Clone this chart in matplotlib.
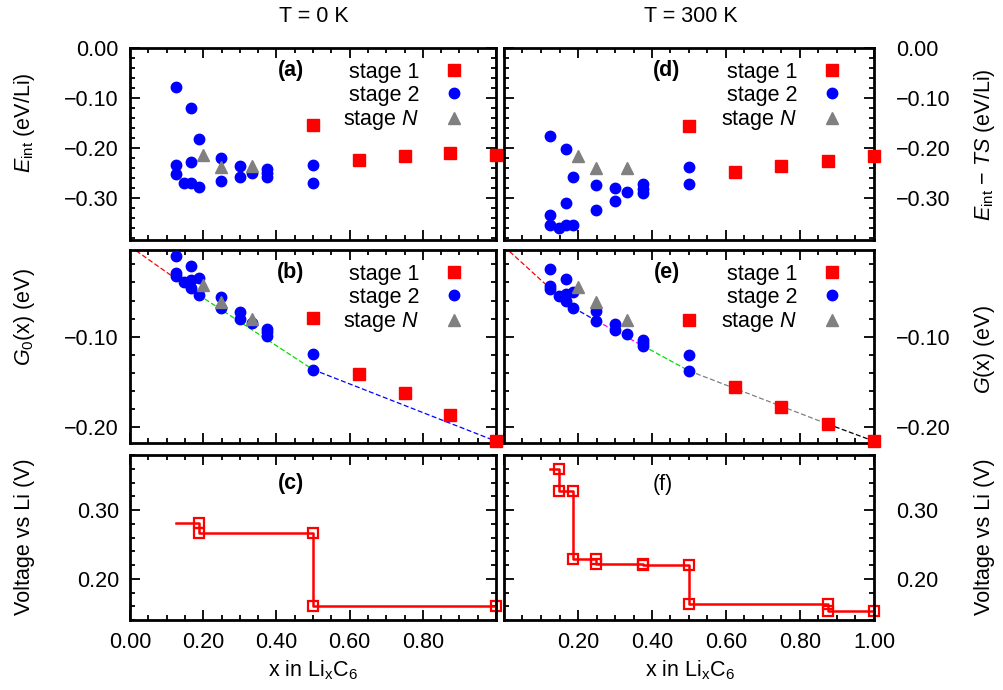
import matplotlib
matplotlib.use("Agg")
import matplotlib.pyplot as plt
from matplotlib.ticker import MultipleLocator, FuncFormatter

plt.rcParams['font.family'] = ['Liberation Sans', 'DejaVu Sans']
plt.rcParams['mathtext.fontset'] = 'custom'
plt.rcParams['mathtext.rm'] = 'Liberation Sans'
plt.rcParams['mathtext.it'] = 'Liberation Sans:italic'
plt.rcParams['mathtext.bf'] = 'Liberation Sans:bold'
plt.rcParams['font.size'] = 15.5

# ---- data ----
x_s1 = [0.5, 0.625, 0.75, 0.875, 1.0]
x_s2 = [0.125, 0.125, 0.125, 0.148, 0.167, 0.167, 0.167, 0.1875, 0.1875,
        0.25, 0.25, 0.30, 0.30, 0.333, 0.375, 0.375, 0.375, 0.5, 0.5]
x_sN = [0.2, 0.25, 0.333]

# E_int, T = 0 K
E0_s1 = [-0.155, -0.224, -0.216, -0.211, -0.214]
E0_s2 = [-0.079, -0.234, -0.252, -0.271, -0.121, -0.228, -0.271, -0.183, -0.279,
         -0.221, -0.267, -0.236, -0.259, -0.251, -0.243, -0.251, -0.259, -0.235, -0.271]
E0_sN = [-0.214, -0.239, -0.237]

# E_int - TS, T = 300 K
E300_s1 = [-0.157, -0.248, -0.236, -0.226, -0.216]
E300_s2 = [-0.177, -0.334, -0.354, -0.361, -0.203, -0.310, -0.354, -0.258, -0.354,
           -0.275, -0.324, -0.281, -0.306, -0.289, -0.273, -0.282, -0.290, -0.238, -0.273]
E300_sN = [-0.216, -0.241, -0.240]

# G0(x)
G0_s1 = [-0.0799, -0.142, -0.163, -0.1868, -0.216]
G0_s2 = [-0.011, -0.0293, -0.033, -0.040, -0.022, -0.0377, -0.0458, -0.0348, -0.0538,
         -0.056, -0.0678, -0.0722, -0.0805, -0.0854, -0.0915, -0.0953, -0.099, -0.119, -0.1366]
G0_sN = [-0.0429, -0.0612, -0.0805]

# G(x), T = 300 K
G300_s1 = [-0.0811, -0.1556, -0.178, -0.197, -0.216]
G300_s2 = [-0.0248, -0.0436, -0.0473, -0.0553, -0.0364, -0.0528, -0.0611, -0.0502, -0.068,
           -0.0716, -0.0826, -0.0855, -0.0927, -0.0975, -0.1036, -0.1073, -0.1101, -0.120, -0.138]
G300_sN = [-0.0447, -0.0618, -0.0818]

# convex hull segments
hull0_x = [0.0, 0.1875, 0.5, 1.0]
hull0_G = [0.0, -0.0538, -0.1366, -0.216]
hull0_c = ['red', '#00dd00', 'blue']
hull300_x = [0.0, 0.148, 0.1875, 0.25, 0.375, 0.5, 0.875, 1.0]
hull300_G = [0.0, -0.0553, -0.068, -0.0826, -0.1101, -0.138, -0.197, -0.216]
hull300_c = ['red', '#00dd00', 'blue', 'magenta', '#00dd00', 'gray', 'black']

# voltage profiles
v0_x = [0.125, 0.1875, 0.1875, 0.5, 0.5, 1.0]
v0 = [0.281, 0.281, 0.267, 0.267, 0.161, 0.161]
v300_x = [0.125, 0.148, 0.148, 0.1875, 0.1875, 0.25, 0.25, 0.375, 0.375,
          0.5, 0.5, 0.875, 0.875, 1.0]
v300 = [0.359, 0.359, 0.327, 0.327, 0.229, 0.229, 0.222, 0.222, 0.220,
        0.220, 0.163, 0.163, 0.153, 0.153]


def fmt(skip=None):
    def f(v, pos):
        if skip is not None and abs(v - skip) < 1e-6:
            return ''
        if abs(v) < 1e-9:
            v = 0.0
        return f"{v:.2f}".replace('-', '\u2212')
    return FuncFormatter(f)


def setup(ax, ylim, side, xlabels=False, xskip=None):
    ax.set_xlim(0, 1)
    ax.set_ylim(*ylim)
    ax.xaxis.set_major_locator(MultipleLocator(0.2))
    ax.xaxis.set_minor_locator(MultipleLocator(0.05))
    ax.yaxis.set_major_locator(MultipleLocator(0.1))
    ax.yaxis.set_minor_locator(MultipleLocator(0.02))
    ax.tick_params(which='both', direction='in', top=True, right=True,
                   left=True, bottom=True, width=1.3, color='black')
    ax.tick_params(which='major', length=7)
    ax.tick_params(which='minor', length=3.5)
    ax.tick_params(axis='y', labelleft=(side == 'left'), labelright=(side == 'right'),
                   pad=(8 if side == 'left' else 16))
    ax.tick_params(axis='x', labelbottom=xlabels, pad=9)
    ax.yaxis.set_major_formatter(fmt())
    ax.xaxis.set_major_formatter(fmt(xskip))
    for s in ax.spines.values():
        s.set_linewidth(2)


def scatter_panel(ax, xs1, y1, xs2, y2, xsN, yN, tag):
    ax.plot(xs1, y1, 's', color='red', ms=8, clip_on=False, label='stage 1', zorder=4)
    ax.plot(xs2, y2, 'o', color='blue', ms=7.5, clip_on=False, label='stage 2', zorder=4)
    ax.plot(xsN, yN, '^', color='gray', ms=9, clip_on=False, label='stage $N$', zorder=4)
    ax.legend(loc='upper right', bbox_to_anchor=(0.95, 0.995), frameon=False,
              markerfirst=False, handlelength=1.0, handletextpad=1.1,
              labelspacing=0.1, borderaxespad=0.2, numpoints=1)
    ax.text(0.44, 0.885, tag, transform=ax.transAxes, ha='center', va='center',
            fontweight='bold')


fig = plt.figure(figsize=(10.04, 6.90), dpi=100)
W, H = 1004.0, 690.0


def box(x0, x1, y0, y1):
    return [x0 / W, 1 - y1 / H, (x1 - x0) / W, (y1 - y0) / H]


ax_a = fig.add_axes(box(130, 496, 48, 240))
ax_b = fig.add_axes(box(130, 496, 250, 443))
ax_c = fig.add_axes(box(130, 496, 455, 620))
ax_d = fig.add_axes(box(504, 874, 48, 240))
ax_e = fig.add_axes(box(504, 874, 250, 443))
ax_f = fig.add_axes(box(504, 874, 455, 620))

# energies
setup(ax_a, (-0.385, 0.0), 'left')
scatter_panel(ax_a, x_s1, E0_s1, x_s2, E0_s2, x_sN, E0_sN, '(a)')
setup(ax_d, (-0.385, 0.0), 'right')
scatter_panel(ax_d, x_s1, E300_s1, x_s2, E300_s2, x_sN, E300_sN, '(d)')

# Gibbs energies with hull
setup(ax_b, (-0.218, -0.004), 'left')
for i in range(len(hull0_c)):
    ax_b.plot(hull0_x[i:i + 2], hull0_G[i:i + 2], '--', color=hull0_c[i], lw=0.9,
              dashes=(4, 2), zorder=2)
scatter_panel(ax_b, x_s1, G0_s1, x_s2, G0_s2, x_sN, G0_sN, '(b)')
setup(ax_e, (-0.218, -0.004), 'right')
for i in range(len(hull300_c)):
    ax_e.plot(hull300_x[i:i + 2], hull300_G[i:i + 2], '--', color=hull300_c[i], lw=0.9,
              dashes=(4, 2), zorder=2)
scatter_panel(ax_e, x_s1, G300_s1, x_s2, G300_s2, x_sN, G300_sN, '(e)')

# voltage
setup(ax_c, (0.14, 0.38), 'left', xlabels=True, xskip=1.0)
ax_c.plot(v0_x, v0, '-', color='red', lw=1.8, marker='s', ms=7, mfc='none', mew=1.6,
          markevery=list(range(1, len(v0_x))), clip_on=False)
ax_c.text(0.44, 0.83, '(c)', transform=ax_c.transAxes, ha='center', va='center',
          fontweight='bold')
setup(ax_f, (0.14, 0.38), 'right', xlabels=True, xskip=0.0)
ax_f.plot(v300_x, v300, '-', color='red', lw=1.8, marker='s', ms=7, mfc='none', mew=1.6,
          markevery=list(range(1, len(v300_x))), clip_on=False)
ax_f.text(0.43, 0.82, '(f)', transform=ax_f.transAxes, ha='center', va='center')

# column titles and axis labels
fig.text(314 / W, 1 - 17 / H, 'T = 0 K', ha='center', va='center')
fig.text(691 / W, 1 - 17 / H, 'T = 300 K', ha='center', va='center')
fig.text(313 / W, 1 - 670 / H, r'x in Li$_\mathrm{x}$C$_6$', ha='center', va='center')
fig.text(690 / W, 1 - 670 / H, r'x in Li$_\mathrm{x}$C$_6$', ha='center', va='center')

fig.text(25 / W, 1 - 123 / H, r'$E_\mathrm{int}$ (eV/Li)', rotation=90, ha='center', va='center')
fig.text(25 / W, 1 - 317 / H, r'$G_0$(x) (eV)', rotation=90, ha='center', va='center')
fig.text(25 / W, 1 - 537 / H, 'Voltage vs Li (V)', rotation=90, ha='center', va='center')
fig.text(985 / W, 1 - 145 / H, r'$E_\mathrm{int}$ $-$ $TS$ (eV/Li)', rotation=90,
         ha='center', va='center')
fig.text(985 / W, 1 - 350 / H, r'$G$(x) (eV)', rotation=90, ha='center', va='center')
fig.text(985 / W, 1 - 537 / H, 'Voltage vs Li (V)', rotation=90, ha='center', va='center')

plt.savefig('out.png', dpi=100)
